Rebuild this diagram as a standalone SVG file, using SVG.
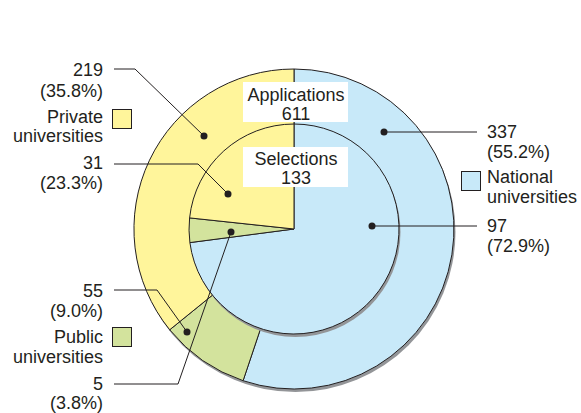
<svg xmlns="http://www.w3.org/2000/svg" width="581" height="413" viewBox="0 0 581 413">
<style>
text{font-family:"Liberation Sans",Arial,sans-serif;font-size:18px;fill:#231f20}
.r{text-anchor:end}
.m{text-anchor:middle}
.sl{stroke:#231f20;stroke-width:1}
.nat{fill:#c8e9f9}
.pri{fill:#fff59b}
.pub{fill:#d3e39d}
.shadow{fill:#939598}
.lead{fill:none;stroke:#231f20;stroke-width:1}
.dot{fill:#231f20}
.box{fill:#ffffff}
</style>
<g id="outer-ring">
<circle class="shadow" cx="295.5" cy="232" r="160"/>
<path class="nat sl" d="M294,229 L294,69 A160,160 0 1,1 243.1,380.7 Z"/>
<path class="pub sl" d="M294,229 L243.1,380.7 A160,160 0 0,1 169.7,329.8 Z"/>
<path class="pri sl" d="M294,229 L169.7,329.8 A160,160 0 0,1 294,69 Z"/>
</g>
<g id="inner-ring">
<circle class="shadow" cx="295.5" cy="232" r="105"/>
<path class="nat sl" d="M294,229 L294,124 A105,105 0 1,1 189.9,242.6 Z"/>
<path class="pub sl" d="M294,229 L189.9,242.6 A105,105 0 0,1 189.6,217.9 Z"/>
<path class="pri sl" d="M294,229 L189.6,217.9 A105,105 0 0,1 294,124 Z"/>
</g>
<g id="applications-label">
<rect class="box" x="243" y="82" width="105" height="40"/>
<text class="m" x="296" y="101">Applications</text>
<text class="m" x="296" y="120">611</text>
</g>
<g id="selections-label">
<rect class="box" x="243" y="147" width="105" height="40"/>
<text class="m" x="296" y="165">Selections</text>
<text class="m" x="296" y="184">133</text>
</g>
<g id="connectors">
<polyline class="lead" points="114,69 135,69 204,136"/>
<polyline class="lead" points="114,164 198,164 228,194"/>
<polyline class="lead" points="114,290 157,290 187,332"/>
<polyline class="lead" points="114,384 178,384 231,232"/>
<line class="lead" x1="384" y1="132" x2="477" y2="132"/>
<line class="lead" x1="372" y1="226" x2="477" y2="226"/>
<circle class="dot" cx="204" cy="136" r="3.5"/>
<circle class="dot" cx="228" cy="194" r="3.5"/>
<circle class="dot" cx="187" cy="332" r="3.5"/>
<circle class="dot" cx="231" cy="232" r="3.5"/>
<circle class="dot" cx="384" cy="132" r="3.5"/>
<circle class="dot" cx="372" cy="226" r="3.5"/>
</g>
<g id="private-legend">
<text class="r" x="103" y="76">219</text>
<text class="r" x="103" y="97">(35.8%)</text>
<rect class="pri sl" x="112.5" y="109.5" width="19" height="19"/>
<text class="r" x="103" y="123">Private</text>
<text class="r" x="103" y="142">universities</text>
<text class="r" x="103" y="169">31</text>
<text class="r" x="103" y="189">(23.3%)</text>
</g>
<g id="public-legend">
<text class="r" x="103" y="297">55</text>
<text class="r" x="103" y="317">(9.0%)</text>
<rect class="pub sl" x="112.5" y="327.5" width="19" height="19"/>
<text class="r" x="103" y="343">Public</text>
<text class="r" x="103" y="363">universities</text>
<text class="r" x="103" y="390">5</text>
<text class="r" x="103" y="409">(3.8%)</text>
</g>
<g id="national-legend">
<text x="487" y="138">337</text>
<text x="487" y="158">(55.2%)</text>
<rect class="nat sl" x="461.5" y="171.5" width="19" height="19"/>
<text x="487" y="183">National</text>
<text x="487" y="203">universities</text>
<text x="487" y="232">97</text>
<text x="487" y="252">(72.9%)</text>
</g>
</svg>
